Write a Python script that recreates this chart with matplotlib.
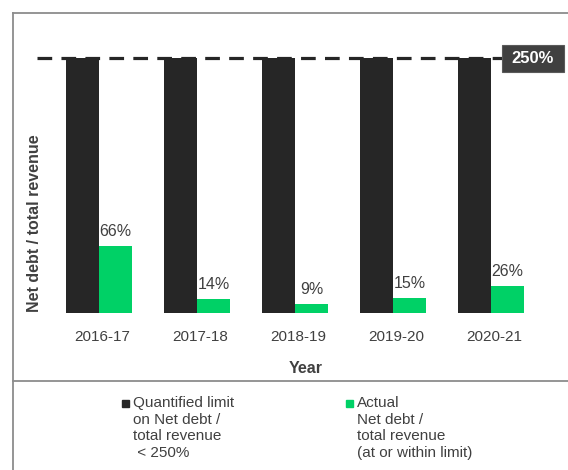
import matplotlib.pyplot as plt
from matplotlib.lines import Line2D
from matplotlib.patches import Rectangle

years = ["2016-17", "2017-18", "2018-19", "2019-20", "2020-21"]
limit = [250, 250, 250, 250, 250]
actual = [66, 14, 9, 15, 26]
limit_label = "250%"

plt.rcParams["font.family"] = ["Liberation Sans", "DejaVu Sans"]

W, H = 568, 470
fig = plt.figure(figsize=(W / 100, H / 100), dpi=100)

# layout in pixels: categories at 99 + 98*i, baseline y=313, 250 at y=58
L, R, B, T = 35, 568, 313, 20
cx0, step = 99, 98
ppu = (313 - 58) / 250


def px2x(p):
    return (p - cx0) / step


def py2y(p):
    return (B - p) / ppu


ax = fig.add_axes([L / W, 1 - B / H, (R - L) / W, (B - T) / H])
x = list(range(len(years)))
bw = 33 / step
ax.bar([i - bw / 2 for i in x], limit, width=bw, color="#262626", zorder=2)
ax.bar([i + bw / 2 for i in x], actual, width=bw, color="#00d166", zorder=2)
for i, v in zip(x, actual):
    ax.text(i + bw / 2, v + 10 / ppu, f"{v}%", ha="center", va="baseline",
            fontsize=11.5, color="#404040")

x0 = px2x(37)
x1 = px2x(502)
ax.plot([x0, x1], [limit[0], limit[0]], color="#262626", lw=2.3,
        ls=(0, (4.6, 2.9)), zorder=1)
bx0, bx1 = px2x(502), px2x(564)
by0, by1 = py2y(72), py2y(45)
ax.add_patch(Rectangle((bx0, by0), bx1 - bx0, by1 - by0, fc="#404040",
                       ec="#5a5a5a", lw=0.8, clip_on=False, zorder=3))
ax.text((bx0 + bx1) / 2, (by0 + by1) / 2, limit_label, ha="center", va="center",
        fontsize=12, fontweight="bold", color="white", zorder=4)

ax.set_xlim(px2x(L), px2x(R))
ax.set_ylim(0, py2y(T))
ax.set_xticks([i + 0.03 for i in x])
ax.set_xticklabels(years, fontsize=11, color="#404040")
ax.tick_params(axis="x", length=0, pad=12)
ax.set_yticks([])
for s in ax.spines.values():
    s.set_visible(False)
ax.set_xlabel("Year", fontsize=11.5, fontweight="bold", color="#404040")
ax.xaxis.set_label_coords((306 - L) / (R - L), -(361 - B) / (B - T))
ax.set_ylabel("Net debt / total revenue", fontsize=11.5, fontweight="bold",
              color="#404040")
ax.yaxis.set_label_coords((42.5 - L) / (R - L), (B - 223.5) / (B - T))

# frame lines
fc = "#8c8c8c"
fig.add_artist(Line2D([13 / W, 13 / W], [0, 1 - 13 / H], color=fc, lw=1.3))
fig.add_artist(Line2D([13 / W, 1], [1 - 13 / H, 1 - 13 / H], color=fc, lw=1.3))
fig.add_artist(Line2D([13 / W, 1], [1 - 381 / H, 1 - 381 / H], color=fc, lw=1.3))

# legend
items = [
    (122, "#262626", "Quantified limit\non Net debt /\ntotal revenue\n < 250%"),
    (346, "#00d166", "Actual\nNet debt /\ntotal revenue\n(at or within limit)"),
]
for px, col, lab in items:
    fig.add_artist(Rectangle((px / W, 1 - 407 / H), 7 / W, 7 / H,
                             transform=fig.transFigure, color=col))
    fig.text((px + 11) / W, 1 - 396 / H, lab, ha="left", va="top",
             fontsize=11, color="#404040", linespacing=1.25)

fig.savefig("out.png", dpi=100)
